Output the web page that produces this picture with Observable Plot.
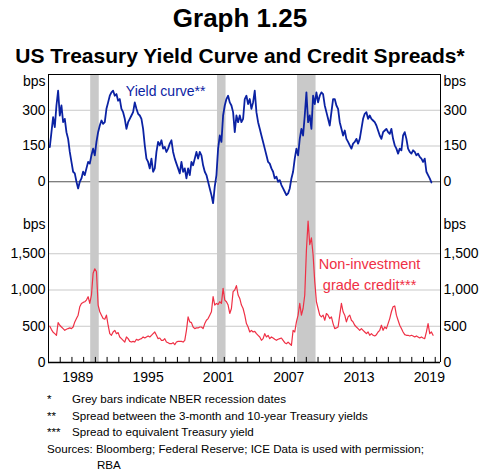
<!DOCTYPE html>
<html><head><meta charset="utf-8">
<script src="https://cdn.jsdelivr.net/npm/d3@7"></script>
<script src="https://cdn.jsdelivr.net/npm/@observablehq/plot@0.6"></script>
<style>
body{margin:0;background:#fff;font-family:Arial,"Liberation Sans",sans-serif;color:#000;}
#wrap{position:relative;width:480px;height:470px;overflow:hidden;}
.t{position:absolute;left:0;width:480px;text-align:center;font-weight:bold;white-space:nowrap;}
#notes{position:absolute;left:47px;top:391px;width:425px;font-size:11.6px;line-height:16.5px;}
.row{display:flex;}
.row .m{width:25px;flex:none;}
.src{padding-left:50px;text-indent:-50px;}
svg{display:block;font-family:Arial,"Liberation Sans",sans-serif;}
</style></head><body>
<div id="wrap">
  <div class="t" style="top:5px;font-size:26px;line-height:26px;">Graph 1.25</div>
  <div class="t" style="top:45px;font-size:21px;line-height:21px;">US Treasury Yield Curve and Credit Spreads*</div>
  <div id="top" style="position:absolute;left:0;top:66px;"></div>
  <div id="bot" style="position:absolute;left:0;top:217px;"></div>
  <div id="notes">
    <div class="row"><span class="m">*</span><span>Grey bars indicate NBER recession dates</span></div>
    <div class="row"><span class="m">**</span><span>Spread between the 3-month and 10-year Treasury yields</span></div>
    <div class="row"><span class="m">***</span><span>Spread to equivalent Treasury yield</span></div>
    <div class="src">Sources: Bloomberg; Federal Reserve; ICE Data is used with permission;<br>RBA</div>
  </div>
</div>
<script>
// Sampling dates (decimal years, as placed on the chart's time axis)
const sampleStart = 1987.11;
const sampleStep = 0.1422;

// Yield curve: 10-year minus 3-month Treasury yield, bps
const yieldCurveBps = [
145,208,271,229,320,382,278,320,250,264,208,180,125,83,42,35,0,-28,0,14,42,28,56,83,76,111,139,111,167,208,236,257,243,250,306,333,361,375,382,361,368,340,347,306,292,264,222,250,264,278,292,333,306,285,278,264,222,153,97,83,56,97,42,56,125,167,153,174,139,146,125,139,160,174,125,97,76,56,35,
83,42,56,14,56,28,83,69,97,125,97,125,111,69,42,28,0,-28,-56,-90,-20,28,139,194,167,278,320,347,361,333,320,292,208,278,250,278,250,264,347,361,326,347,306,333,382,292,250,222,194,167,139,111,83,76,56,42,14,21,0,7,-14,-28,-42,-56,-49,-28,14,42,97,139,111,180,222,194,278,375,250,278,222,
361,326,375,333,361,375,368,320,292,264,236,292,347,347,320,306,250,222,194,215,180,167,153,139,160,167,180,160,180,222,264,285,292,264,278,264,257,250,236,215,194,180,208,215,222,208,201,222,180,153,139,118,139,132,194,208,180,139,125,118,132,125,111,118,104,97,83,97,42,28,14,-3
];

// Non-investment grade credit spread, bps
const creditSpreadBps = [
500,454,417,398,375,550,514,490,468,444,458,468,477,468,490,560,606,653,769,815,829,838,861,908,815,931,1232,1292,1255,792,700,653,606,597,653,514,398,375,421,444,398,412,352,329,306,282,352,329,292,282,292,282,320,306,320,329,352,338,352,366,352,375,398,421,375,329,338,306,306,329,282,273,259,259,273,245,282,292,292,
292,282,306,444,630,560,550,490,468,477,477,490,490,468,537,583,606,653,700,908,792,815,801,838,815,1023,861,838,792,676,745,977,1000,1060,931,884,792,745,653,537,490,421,444,421,430,398,375,352,306,329,398,352,375,329,352,338,320,306,320,329,338,306,273,259,282,259,236,444,421,560,653,815,653,745,931,1550,1950,1625,1718,
1486,1116,838,745,653,630,653,583,676,653,606,630,537,468,477,490,653,815,700,653,560,630,653,583,560,514,490,468,444,468,444,421,398,421,375,398,375,366,384,421,444,514,444,490,468,537,606,700,769,780,653,583,514,468,421,384,375,375,366,375,366,352,366,352,338,352,338,329,421,537,398,421,375
];

// Recession bars (start, end), decimal years on the chart axis
const recessionStart = [1990.6, 2001.42, 2008.25];
const recessionEnd   = [1991.33, 2002.15, 2009.83];

const xDomain = [1987, 2020.45];
const yieldTicks = [0, 150, 300];
const yieldGrid = [150, 300];
const creditTicks = [0, 500, 1000, 1500];
const creditGrid = [500, 1000, 1500];
const labelYears = [1989, 1995, 2001, 2007, 2013, 2019];
const tickYears = d3.range(1988, 2021);

const BLUE = "#0b22a3";
const RED = "#ef3045";
const GREY = "#c9c9c9";
const FS = 14;

const yc = yieldCurveBps.map((v, i) => ({date: sampleStart + i * sampleStep, v}));
const cs = creditSpreadBps.map((v, i) => ({date: sampleStart + i * sampleStep, v}));
const rec = recessionStart.map((s, i) => ({start: s, end: recessionEnd[i]}));

const topPlot = Plot.plot({
  width: 480, height: 151,
  marginTop: 8, marginBottom: 0, marginLeft: 48, marginRight: 40,
  style: {fontFamily: "Arial, 'Liberation Sans', sans-serif", fontSize: FS + "px", background: "transparent"},
  x: {domain: xDomain, axis: null},
  y: {domain: [-150, 450], axis: null},
  marks: [
    Plot.ruleY(yieldGrid, {stroke: GREY, strokeWidth: 1}),
    Plot.ruleY([0], {stroke: "#555", strokeWidth: 1}),
    Plot.rect(rec, {x1: "start", x2: "end", fill: GREY}),
    Plot.line(yc, {x: "date", y: "v", stroke: BLUE, strokeWidth: 1.8}),
    Plot.axisY({anchor: "left", label: null, ticks: yieldTicks, tickSize: 0, tickPadding: 3, fontSize: FS}),
    Plot.axisY({anchor: "right", label: null, ticks: yieldTicks, tickSize: 0, tickPadding: 3, fontSize: FS}),
    Plot.text(["bps"], {x: xDomain[0], y: 450, dy: 7, dx: -3, textAnchor: "end", fontSize: FS}),
    Plot.text(["bps"], {x: xDomain[1], y: 450, dy: 7, dx: 3, textAnchor: "start", fontSize: FS}),
    Plot.text(["Yield curve**"], {x: 1993.6, y: 378, textAnchor: "start", fill: BLUE, fontSize: FS}),
    Plot.ruleY([450, -150], {stroke: "#000", strokeWidth: 1}),
    Plot.ruleX(xDomain, {stroke: "#000", strokeWidth: 1})
  ]
});
document.getElementById("top").appendChild(topPlot);

const botPlot = Plot.plot({
  width: 480, height: 170,
  marginTop: 0, marginBottom: 25, marginLeft: 48, marginRight: 40,
  style: {fontFamily: "Arial, 'Liberation Sans', sans-serif", fontSize: FS + "px", background: "transparent", overflow: "visible"},
  x: {domain: xDomain, axis: null},
  y: {domain: [0, 2000], axis: null},
  marks: [
    Plot.ruleY(creditGrid, {stroke: GREY, strokeWidth: 1}),
    Plot.rect(rec, {x1: "start", x2: "end", fill: GREY}),
    Plot.line(cs, {x: "date", y: "v", stroke: RED, strokeWidth: 1.2}),
    Plot.ruleX(tickYears, {y1: 0, y2: 70, stroke: "#000", strokeWidth: 1}),
    Plot.axisY({anchor: "left", label: null, ticks: creditTicks, tickFormat: d3.format(","), tickSize: 0, tickPadding: 3, fontSize: FS}),
    Plot.axisY({anchor: "right", label: null, ticks: creditTicks, tickFormat: d3.format(","), tickSize: 0, tickPadding: 3, fontSize: FS}),
    Plot.axisX({anchor: "bottom", label: null, ticks: labelYears.map(y => y + 0.5), tickFormat: d => String(Math.floor(d)), tickSize: 0, tickPadding: 10, fontSize: FS}),
    Plot.text(["bps"], {x: xDomain[0], y: 2000, dy: 7, dx: -3, textAnchor: "end", fontSize: FS}),
    Plot.text(["bps"], {x: xDomain[1], y: 2000, dy: 7, dx: 3, textAnchor: "start", fontSize: FS}),
    Plot.text(["Non-investment\ngrade credit***"], {x: 2014.4, y: 1236, textAnchor: "middle", lineHeight: 1.4, fill: RED, fontSize: 14.5}),
    Plot.ruleY([0], {stroke: "#000", strokeWidth: 1.3}),
    Plot.ruleX(xDomain, {stroke: "#000", strokeWidth: 1})
  ]
});
document.getElementById("bot").appendChild(botPlot);
</script>
</body></html>
